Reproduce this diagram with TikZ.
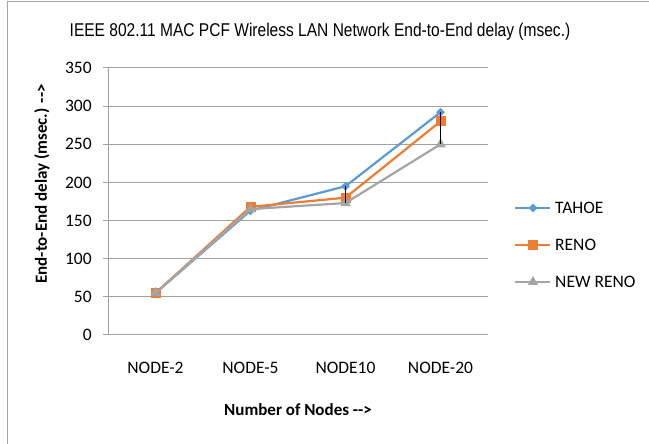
\documentclass[tikz,border=0pt]{standalone}
\usepackage{fontspec}
\setmainfont{Carlito}
\newfontfamily\titlefont[FakeStretch=0.84]{Liberation Sans}
\usetikzlibrary{shapes.geometric, positioning}
\definecolor{framegray}{HTML}{A6A6A6}
\definecolor{gridgray}{HTML}{A0A0A0}
\definecolor{tahoeblue}{HTML}{5B9BD5}
\definecolor{renoorange}{HTML}{ED7D31}
\definecolor{newrenogray}{HTML}{A5A5A5}

\begin{document}
\begin{tikzpicture}[x=1pt, y=1pt,
    gridline/.style={draw=gridgray, line width=1pt},
    ticklabel/.style={font=\fontsize{17.5}{17.5}\selectfont, anchor=east, inner sep=0pt},
    catlabel/.style={font=\fontsize{17.5}{17.5}\selectfont, inner sep=0pt},
    axistitle/.style={font=\fontsize{17}{17}\selectfont\bfseries, inner sep=0pt},
    legtext/.style={font=\fontsize{17.5}{17.5}\selectfont, anchor=west, inner sep=0pt},
    series/.style={line width=2.2pt, line join=round},
    tahoemark/.style={fill=tahoeblue, diamond, minimum size=9pt, inner sep=0pt},
    renomark/.style={fill=renoorange, rectangle, minimum size=10pt, inner sep=0pt},
    newrenomark/.style={fill=newrenogray, regular polygon, regular polygon sides=3, minimum size=12pt, inner sep=0pt}]
    \useasboundingbox (0,0) rectangle (649,444);
    \draw[framegray, line width=1pt] (7,0) -- (7,442) -- (649,442);

    \node[font=\fontsize{18.5}{18.5}\selectfont\titlefont, inner sep=0pt] (title) at (320,412) {IEEE 802.11 MAC PCF Wireless LAN Network End-to-End delay (msec.)};

    \begin{scope}[shift={(108,109)}, x=95pt, y=0.7629pt]
        % grid and value axis
        \foreach \v in {0,50,...,350} {
            \draw[gridline] (-0.05,\v) -- (4,\v);
            \node[ticklabel] (tick\v) at (-0.17,\v) {\v};
        }
        \draw[gridline] (0,0) -- (0,350);
        \foreach \lab [count=\i] in {NODE-2,NODE-5,NODE10,NODE-20}
            \node[catlabel] (cat\i) at (\i-0.5,-43) {\lab};

        % data points
        \foreach \v [count=\i] in {55,163,195,292} \coordinate (t\i) at (\i-0.5,\v);
        \foreach \v [count=\i] in {55,168,180,280} \coordinate (r\i) at (\i-0.5,\v);
        \foreach \v [count=\i] in {55,165,173,250} \coordinate (n\i) at (\i-0.5,\v);

        \draw[series, tahoeblue] (t1) -- (t2) -- (t3) -- (t4);
        \foreach \i in {1,...,4} \node[tahoemark] at (t\i) {};
        \draw[series, renoorange] (r1) -- (r2) -- (r3) -- (r4);
        \foreach \i in {1,...,4} \node[renomark] at (r\i) {};
        \draw[series, newrenogray] (n1) -- (n2) -- (n3) -- (n4);
        \foreach \i in {1,...,4} \node[newrenomark] at (n\i) {};

        % high-low lines
        \draw[black, line width=0.8pt] (t3) -- (n3);
        \draw[black, line width=0.8pt] (t4) -- (n4);
    \end{scope}

    \node[axistitle, rotate=90] (ytitle) at (42,260) {End-to-End delay (msec.) -{}-{}>};
    \node[axistitle] (xtitle) at (298,34) {Number of Nodes -{}-{}>};

    % legend
    \coordinate (legT) at (515,236);
    \coordinate (legR) at (515,199);
    \coordinate (legN) at (515,162);
    \draw[series, tahoeblue] (legT) -- ++(35,0);
    \node[tahoemark] at ([xshift=18pt]legT) {};
    \node[legtext] (legtahoe) at ([xshift=40pt]legT) {TAHOE};
    \draw[series, renoorange] (legR) -- ++(35,0);
    \node[renomark] at ([xshift=18pt]legR) {};
    \node[legtext] (legreno) at ([xshift=40pt]legR) {RENO};
    \draw[series, newrenogray] (legN) -- ++(35,0);
    \node[newrenomark] at ([xshift=18pt]legN) {};
    \node[legtext] (legnewreno) at ([xshift=40pt]legN) {NEW RENO};
\end{tikzpicture}
\end{document}
